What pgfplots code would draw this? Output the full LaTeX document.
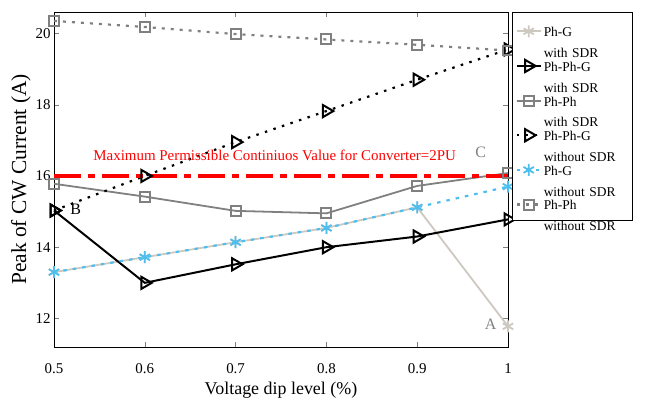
\documentclass[border=0pt]{standalone}
\usepackage{pgfplots}
\pgfplotsset{compat=1.18}
\usepackage{fontspec}
\setmainfont{Liberation Serif}
\definecolor{lgray}{HTML}{CDC9C1}
\definecolor{mgray}{HTML}{808080}
\definecolor{lblue}{HTML}{4DBEEE}
% two-line legend text, box of fixed height so the rows are evenly spaced
\newcommand\legtxt[2]{\raisebox{-16.5bp}[24.15bp][24.15bp]{\vbox{\hbox{#1}\hbox{#2}}}}

\begin{document}
\begin{tikzpicture}
\begin{axis}[
  name=ax,
  scale only axis, width=454bp, height=335bp,
  xmin=0.5, xmax=1, ymin=11.2, ymax=20.6,
  xtick={0.5,0.6,0.7,0.8,0.9,1}, ytick={12,14,16,18,20},
  xticklabels={0.5,0.6,0.7,0.8,0.9,1},
  /pgf/number format/assume math mode=true,
  tick label style={font=\fontsize{15}{17}\selectfont},
  xticklabel style={yshift=-13bp},
  xlabel={Voltage dip level (\%)}, ylabel={Peak of CW Current (A)},
  xlabel style={font=\fontsize{18}{20}\selectfont, yshift=-2bp},
  ylabel style={font=\fontsize{21.5}{23}\selectfont, yshift=-2bp},
  axis line style={line width=1pt}, major tick length=5pt,
  legend style={at={(1.009,1)}, anchor=north west, line width=1pt,
    font=\fontsize{13.5}{21}\selectfont, cells={anchor=west},
    nodes={text width=84bp, align=left, inner ysep=4.5bp},
    row sep=0bp, inner ysep=0bp, inner xsep=3bp},
  legend image code/.code={\draw[mark repeat=2,mark phase=2] plot coordinates {(0bp,-1.5bp) (12bp,-1.5bp) (24bp,-1.5bp)};},
  clip=false,
]
\addplot[lgray, line width=1.8pt, mark=asterisk, mark size=6pt, mark options={solid, line width=1.8pt}]
  coordinates {(0.5,13.3)(0.6,13.72)(0.7,14.14)(0.8,14.54)(0.9,15.12)(1,11.78)};
\addlegendentry{\legtxt{Ph-G}{with SDR}}
\addplot[black, line width=2pt, mark=triangle, mark size=7pt, mark options={solid, rotate=-90, line width=2pt}]
  coordinates {(0.5,15.03)(0.6,13.0)(0.7,13.52)(0.8,14.0)(0.9,14.3)(1,14.78)};
\addlegendentry{\legtxt{Ph-Ph-G}{with SDR}}
\addplot[mgray, line width=1.8pt, mark=square, mark size=5pt, mark options={solid, line width=2pt}]
  coordinates {(0.5,15.78)(0.6,15.42)(0.7,15.02)(0.8,14.95)(0.9,15.72)(1,16.08)};
\addlegendentry{\legtxt{Ph-Ph}{with SDR}}
\addplot[black, line width=2.2pt, dash pattern=on 2.5bp off 6.5bp, mark=triangle, mark size=7pt, mark options={solid, rotate=-90, line width=2pt}]
  coordinates {(0.5,15.03)(0.6,16.0)(0.7,16.95)(0.8,17.82)(0.9,18.7)(1,19.55)};
\addlegendentry{\legtxt{Ph-Ph-G}{without SDR}}
\addplot[lblue, line width=2.2pt, dash pattern=on 3.5bp off 6bp, mark=asterisk, mark size=6pt, mark options={solid, line width=1.8pt}]
  coordinates {(0.5,13.3)(0.6,13.72)(0.7,14.14)(0.8,14.54)(0.9,15.12)(1,15.7)};
\addlegendentry{\legtxt{Ph-G}{without SDR}}
\addplot[mgray, line width=2.2pt, dash pattern=on 3bp off 6bp, mark=square, mark size=5pt, mark options={solid, line width=2pt}]
  coordinates {(0.5,20.35)(0.6,20.18)(0.7,19.98)(0.8,19.83)(0.9,19.68)(1,19.52)};
\addlegendentry{\legtxt{Ph-Ph}{without SDR}}
\addplot[red, line width=4.5bp, dash pattern=on 27bp off 7bp on 7bp off 7bp, forget plot]
  coordinates {(0.5,16)(1,16)};
\node[red, font=\fontsize{15}{17}\selectfont] at (axis cs:0.743,16.58) {Maximum Permissible Continiuos Value for Converter=2PU};
\node[black, font=\fontsize{16}{18}\selectfont] at (axis cs:0.524,15.05) {B};
\node[mgray, font=\fontsize{16}{18}\selectfont] at (axis cs:0.97,16.67) {C};
\node[mgray, font=\fontsize{16}{18}\selectfont] at (axis cs:0.981,11.85) {A};
\end{axis}
\pgfresetboundingbox
\path (ax.south west) ++(-54bp,-59bp) rectangle ++(646bp,406bp);
\end{tikzpicture}
\end{document}
